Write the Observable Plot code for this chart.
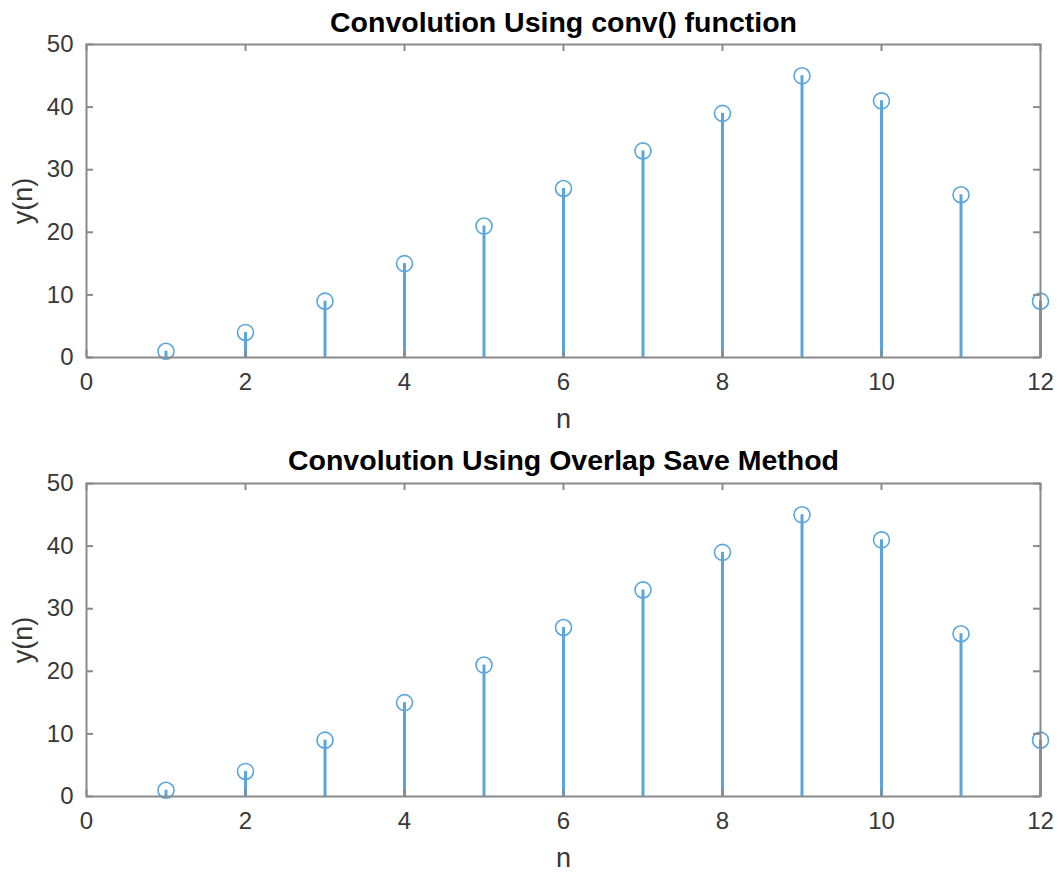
<!DOCTYPE html>
<html>
<head>
<meta charset="utf-8">
<script src="https://cdn.jsdelivr.net/npm/d3@7"></script>
<script src="https://cdn.jsdelivr.net/npm/@observablehq/plot@0.6"></script>
<style>
  html, body { margin: 0; padding: 0; background: #fff; }
  #chart svg { display: block; }
</style>
</head>
<body>
<div id="chart"></div>
<script>
const nValues = [1, 2, 3, 4, 5, 6, 7, 8, 9, 10, 11, 12];
const yConv = [1, 4, 9, 15, 21, 27, 33, 39, 45, 41, 26, 9];
const yOverlapSave = [1, 4, 9, 15, 21, 27, 33, 39, 45, 41, 26, 9];
const titles = ["Convolution Using conv() function", "Convolution Using Overlap Save Method"];
const xTicks = [0, 2, 4, 6, 8, 10, 12];
const yTicks = [0, 10, 20, 30, 40, 50];

const stemColor = "#5aa6db";
const axisColor = "#8a8a8a";
const textColor = "#383838";
const font = "'Liberation Sans', Arial, Helvetica, sans-serif";
const W = 1062, H = 437, ML = 86, MR = 22, TICK = 7;

function subplot(values, title, mt, mb, titleDy) {
  const data = nValues.map((n, i) => ({n, y: values[i]}));
  const fw = W - ML - MR, fh = H - mt - mb;
  return Plot.plot({
    width: W,
    height: H,
    marginTop: mt,
    marginBottom: mb,
    marginLeft: ML,
    marginRight: MR,
    style: {fontFamily: font, color: textColor, background: "#fff"},
    x: {domain: [0, 12], ticks: xTicks},
    y: {domain: [0, 50], ticks: yTicks},
    marks: [
      Plot.ruleX(data, {x: "n", y1: 0, y2: "y", stroke: stemColor, strokeWidth: 3}),
      Plot.dot(data, {x: "n", y: "y", r: 8, stroke: stemColor, strokeWidth: 1.6, fill: "none"}),
      // inward tick marks on all four sides
      Plot.tickX(xTicks, {x: d => d, insetTop: fh - TICK, stroke: axisColor, strokeWidth: 2}),
      Plot.tickX(xTicks, {x: d => d, insetBottom: fh - TICK, stroke: axisColor, strokeWidth: 2}),
      Plot.tickY(yTicks, {y: d => d, insetRight: fw - TICK, stroke: axisColor, strokeWidth: 2}),
      Plot.tickY(yTicks, {y: d => d, insetLeft: fw - TICK, stroke: axisColor, strokeWidth: 2}),
      Plot.frame({stroke: axisColor, strokeWidth: 2}),
      Plot.axisX(xTicks, {anchor: "bottom", tickSize: 0, tickPadding: 15, fontSize: 24, fill: textColor,
        label: "n", labelAnchor: "center", labelArrow: "none", labelOffset: 70}),
      Plot.axisY(yTicks, {anchor: "left", tickSize: 0, tickPadding: 13, fontSize: 24, fill: textColor,
        label: "y(n)", labelAnchor: "center", labelArrow: "none", labelOffset: 74}),
      Plot.text([title], {frameAnchor: "top", lineAnchor: "bottom", dy: titleDy, fontSize: 28.5, fontWeight: "bold", fill: "#000"})
    ]
  });
}

const root = document.getElementById("chart");
root.appendChild(subplot(yConv, titles[0], 44, 80, -13));
root.appendChild(subplot(yOverlapSave, titles[1], 46, 78, -14));

// axis label font size (MATLAB: 1.1 × tick font)
document.querySelectorAll("svg g[aria-label$='-axis label'] text").forEach(t => t.setAttribute("font-size", 27));
</script>
</body>
</html>
